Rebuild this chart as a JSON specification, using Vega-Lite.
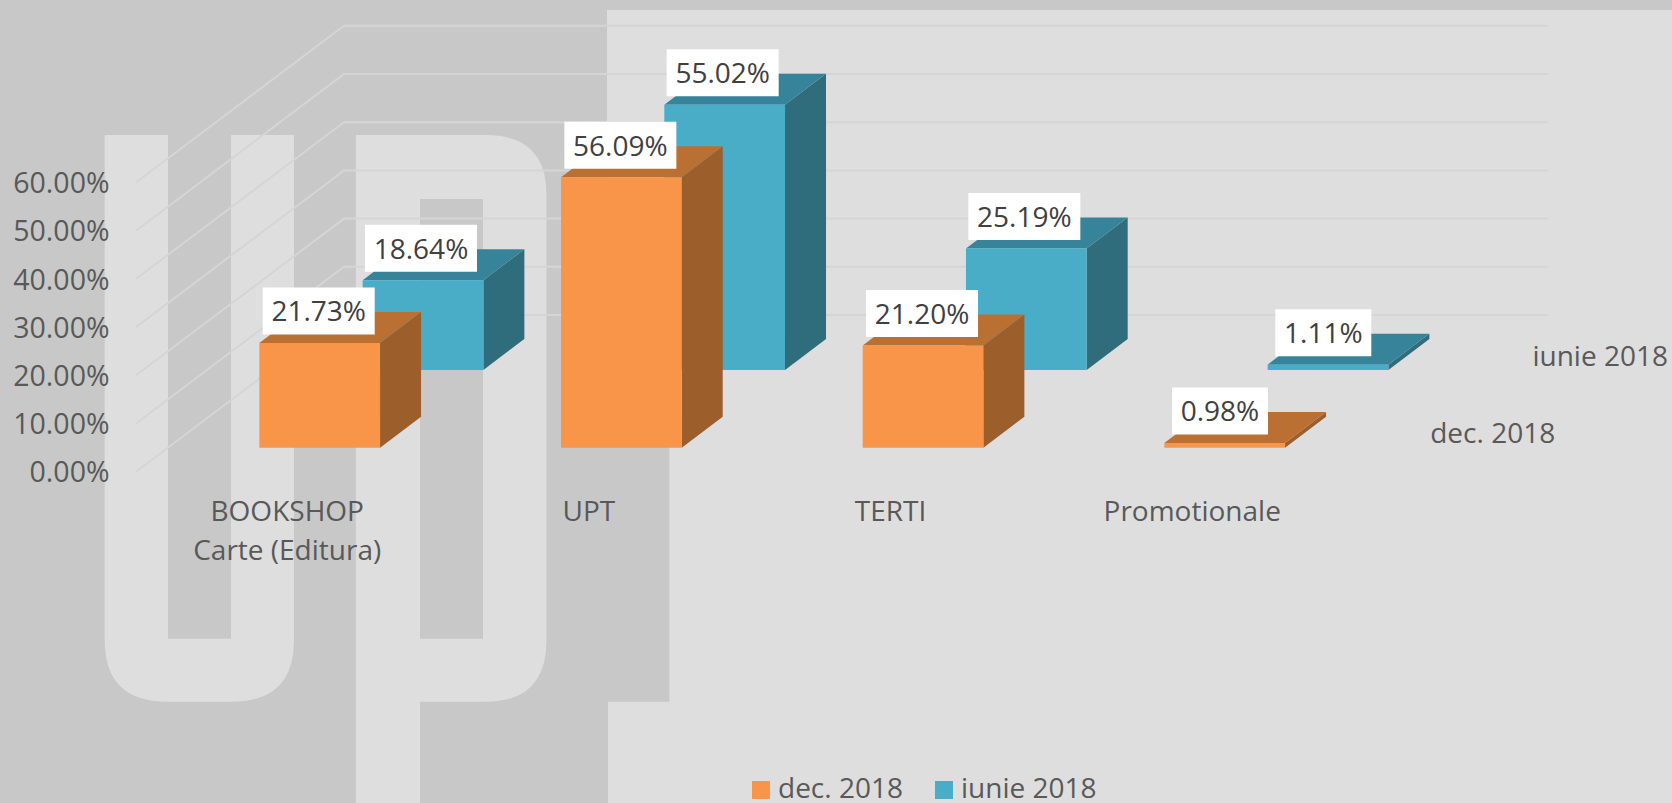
{
"$schema":"https://vega.github.io/schema/vega-lite/v6.json",
"autosize":"none","padding":0,"width":1672,"height":803,
"background":"#c8c8c8",
"config":{"view":{"stroke":null}},
"datasets":{
"bars":[
{"category":"BOOKSHOP|Carte (Editura)","series":"dec. 2018","value":0.2173},
{"category":"UPT","series":"dec. 2018","value":0.5609},
{"category":"TERTI","series":"dec. 2018","value":0.2120},
{"category":"Promotionale","series":"dec. 2018","value":0.0098},
{"category":"BOOKSHOP|Carte (Editura)","series":"iunie 2018","value":0.1864},
{"category":"UPT","series":"iunie 2018","value":0.5502},
{"category":"TERTI","series":"iunie 2018","value":0.2519},
{"category":"Promotionale","series":"iunie 2018","value":0.0111}
],
"ticks":[{"category":"BOOKSHOP|Carte (Editura)","value":0},{"category":"BOOKSHOP|Carte (Editura)","value":0.1},{"category":"BOOKSHOP|Carte (Editura)","value":0.2},{"category":"BOOKSHOP|Carte (Editura)","value":0.3},{"category":"BOOKSHOP|Carte (Editura)","value":0.4},{"category":"BOOKSHOP|Carte (Editura)","value":0.5},{"category":"BOOKSHOP|Carte (Editura)","value":0.6}],
"backdrop":[{"category":"BOOKSHOP|Carte (Editura)","value":0}]
},
"data":{"name":"bars"},
"encoding":{
"x":{"field":"category","type":"ordinal","title":null,
"scale":{"type":"point","domain":["BOOKSHOP|Carte (Editura)","UPT","TERTI","Promotionale"],"range":[319.7,1224.7],"padding":0},
"axis":{"orient":"bottom","offset":-305,"zindex":1,"domain":false,"ticks":false,"grid":false,"labelAngle":0,"labelPadding":0,"labelOffset":-33,"labelFont":"Open Sans","labelFontSize":28,"labelColor":"#595959","labelLineHeight":39,"labelLimit":400,"labelExpr":"split(datum.label,'|')","labelOverlap":false,"labelBound":false,"labelFlush":false}},
"y":{"field":"value","type":"quantitative","title":null,
"scale":{"domain":[0,0.6],"range":[447.7,158.5],"nice":false},
"axis":{"orient":"left","offset":-109,"zindex":1,"domain":false,"ticks":false,"grid":false,"values":[0,0.1,0.2,0.3,0.4,0.5,0.6],"format":".2%","labelPadding":0,"labelOffset":25.2,"labelFont":"Open Sans","labelFontSize":28.5,"labelColor":"#595959","labelOverlap":false,"labelBound":false}}
},
"layer":[
{"data":{"name":"backdrop"},
"mark":{"type":"point","filled":true,"opacity":1,"size":4,"strokeWidth":0,"fill":"#dedede","xOffset":-319.7,"yOffset":-447.7,
"shape":"M104.7,135H168V638.7H231V135H294V640Q294,701.7,232,701.7H167Q104.7,701.7,104.7,640ZM355.8,135H486Q546.5,135,546.5,195V640Q546.5,701.7,486,701.7H420V803H355.8ZM420,199V638.7H483V199ZM607,10H1672V803H608V701.7H669.4V250H607Z"}},
{"data":{"name":"ticks"},
"mark":{"type":"point","filled":false,"opacity":1,"size":4,"stroke":"#d5d5d5","strokeWidth":2,"fill":"transparent","xOffset":24.3,"yOffset":-132.7,"shape":"M-208,156.7L0,0L1204,0"}},
{"transform":[{"filter":"datum.series==='iunie 2018'"}],
"layer":[
{"mark":{"type":"point","filled":true,"opacity":1,"size":4,"strokeWidth":0,"fill":"#2f6c7c","xOffset":103.3,"yOffset":-77.7},
"encoding":{"shape":{"field":"value","type":"nominal","legend":null,"scale":{"domain":[0.2173,0.5609,0.212,0.0098,0.1864,0.5502,0.2519,0.0111],"range":[
"M60.35,0L101.35,-31V73.7L60.35,104.7Z","M60.35,0L101.35,-31V239.4L60.35,270.4Z","M60.35,0L101.35,-31V71.2L60.35,102.2Z","M60.35,0L101.35,-31V-26.3L60.35,4.7Z",
"M60.35,0L101.35,-31V58.8L60.35,89.8Z","M60.35,0L101.35,-31V234.2L60.35,265.2Z","M60.35,0L101.35,-31V90.4L60.35,121.4Z","M60.35,0L101.35,-31V-25.6L60.35,5.4Z"]}}}},
{"mark":{"type":"point","filled":true,"opacity":1,"size":4,"strokeWidth":0,"fill":"#37849a","xOffset":103.3,"yOffset":-77.7,"shape":"M-60.35,0L-19.35,-31H101.35L60.35,0Z"}},
{"mark":{"type":"bar","width":120.7,"xOffset":103.3,"yOffset":-77.7,"y2Offset":-77.7},
"encoding":{"y":{"field":"value","type":"quantitative","stack":null},"y2":{"datum":0},
"color":{"field":"series","type":"nominal","scale":{"domain":["dec. 2018","iunie 2018"],"range":["#f99548","#49adc8"]},
"legend":{"orient":"none","legendX":747,"legendY":776,"direction":"horizontal","title":null,"symbolType":"square","symbolSize":324,"symbolStrokeWidth":0,"labelFont":"Open Sans","labelFontSize":28,"labelColor":"#595959","labelOffset":3,"columnPadding":27,"padding":0}}}},
{"transform":[{"filter":"datum.category==='Promotionale'"}],
"mark":{"type":"text","font":"Open Sans","fontSize":28,"color":"#595959","align":"center","baseline":"middle","xOffset":375.5,"yOffset":-90.2},
"encoding":{"y":{"datum":0,"type":"quantitative"},"text":{"field":"series"}}}
]},
{"transform":[{"filter":"datum.series==='dec. 2018'"}],
"layer":[
{"mark":{"type":"point","filled":true,"opacity":1,"size":4,"strokeWidth":0,"fill":"#9c5e2a"},
"encoding":{"shape":{"field":"value","type":"nominal","legend":null}}},
{"mark":{"type":"point","filled":true,"opacity":1,"size":4,"strokeWidth":0,"fill":"#ba7032","shape":"M-60.35,0L-19.35,-31H101.35L60.35,0Z"}},
{"mark":{"type":"bar","width":120.7},
"encoding":{"y":{"field":"value","type":"quantitative","stack":null},"y2":{"datum":0},"color":{"field":"series","type":"nominal"}}},
{"transform":[{"filter":"datum.category==='Promotionale'"}],
"mark":{"type":"text","font":"Open Sans","fontSize":28,"color":"#595959","align":"center","baseline":"middle","xOffset":268,"yOffset":-12.5},
"encoding":{"y":{"datum":0,"type":"quantitative"},"text":{"field":"series"}}}
]},
{"transform":[{"filter":"datum.series==='iunie 2018' && datum.category!=='Promotionale'"}],
"layer":[
{"mark":{"type":"point","filled":true,"opacity":1,"size":4,"strokeWidth":0,"fill":"#ffffff","xOffset":103.3,"yOffset":-109.7,"shape":"M-58,-23.5H54V23.5H-58Z"}},
{"mark":{"type":"text","font":"Open Sans","fontSize":28,"color":"#404040","align":"center","baseline":"middle","xOffset":101.3,"yOffset":-107.2},"encoding":{"text":{"field":"value","format":".2%"}}}
]},
{"transform":[{"filter":"datum.series==='iunie 2018' && datum.category==='Promotionale'"}],
"layer":[
{"mark":{"type":"point","filled":true,"opacity":1,"size":4,"strokeWidth":0,"fill":"#ffffff","xOffset":103.3,"yOffset":-109.7,"shape":"M-52.7,-23.5H43.3V23.5H-52.7Z"}},
{"mark":{"type":"text","font":"Open Sans","fontSize":28,"color":"#404040","align":"center","baseline":"middle","xOffset":98.6,"yOffset":-107.2},"encoding":{"text":{"field":"value","format":".2%"}}}
]},
{"transform":[{"filter":"datum.series==='dec. 2018' && datum.category!=='Promotionale'"}],
"layer":[
{"mark":{"type":"point","filled":true,"opacity":1,"size":4,"strokeWidth":0,"fill":"#ffffff","yOffset":-32,"shape":"M-57,-23.5H55V23.5H-57Z"}},
{"mark":{"type":"text","font":"Open Sans","fontSize":28,"color":"#404040","align":"center","baseline":"middle","xOffset":-1,"yOffset":-29.5},"encoding":{"text":{"field":"value","format":".2%"}}}
]},
{"transform":[{"filter":"datum.series==='dec. 2018' && datum.category==='Promotionale'"}],
"layer":[
{"mark":{"type":"point","filled":true,"opacity":1,"size":4,"strokeWidth":0,"fill":"#ffffff","yOffset":-32,"shape":"M-52.7,-23.5H43.3V23.5H-52.7Z"}},
{"mark":{"type":"text","font":"Open Sans","fontSize":28,"color":"#404040","align":"center","baseline":"middle","xOffset":-4.7,"yOffset":-29.5},"encoding":{"text":{"field":"value","format":".2%"}}}
]}
]
}
